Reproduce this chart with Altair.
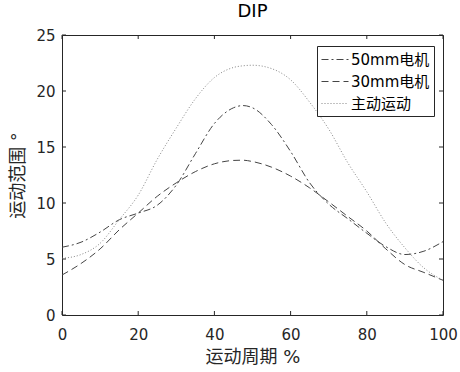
import altair as alt
import pandas as pd

x_pct = [0, 5, 10, 15, 20, 25, 30, 35, 40, 45, 47.5, 50, 55, 60, 65, 70, 75, 80, 85, 90, 95, 100]
motor50 = [6.05, 6.5, 7.4, 8.5, 9.1, 9.8, 11.6, 14.4, 17.1, 18.5, 18.7, 18.5, 17.0, 14.6, 11.8, 9.9, 8.6, 7.3, 6.1, 5.4, 5.7, 6.55]
motor30 = [3.57, 4.6, 5.9, 7.6, 9.1, 10.6, 11.8, 12.8, 13.5, 13.8, 13.82, 13.7, 13.2, 12.4, 11.35, 10.1, 8.8, 7.5, 5.9, 4.5, 3.8, 3.1]
active = [5.06, 5.4, 6.4, 8.5, 10.7, 13.9, 16.7, 19.3, 21.2, 22.1, 22.25, 22.3, 22.0, 21.0, 19.0, 16.6, 13.6, 11.0, 8.2, 6.0, 4.2, 3.1]

series_names = ["50mm电机", "30mm电机", "主动运动"]
series_colors = ["#454545", "#454545", "#858585"]
series_dash = [[7, 3, 2, 3], [7, 4], [1, 2]]

x_ticks = [0, 20, 40, 60, 80, 100]
y_ticks = [0, 5, 10, 15, 20, 25]

rows = []
for name, vals in zip(series_names, [motor50, motor30, active]):
    for xv, yv in zip(x_pct, vals):
        rows.append({"x": xv, "y": yv, "series": name})
df = pd.DataFrame(rows)

W, H = 381, 280
FONT = "DejaVu Sans, Noto Sans CJK SC"
AX = "#262626"

xscale = alt.Scale(domain=[0, 100], nice=False, zero=False)
yscale = alt.Scale(domain=[0, 25], nice=False, zero=False)

lines = alt.Chart(df).mark_line(strokeWidth=1, interpolate="monotone", clip=True).encode(
    x=alt.X("x:Q", scale=xscale,
            axis=alt.Axis(values=x_ticks, title="运动周期 %", grid=False, tickSize=0,
                          labelPadding=12, titlePadding=6, domain=False, labelFlush=False)),
    y=alt.Y("y:Q", scale=yscale,
            axis=alt.Axis(values=y_ticks, title="运动范围 °", grid=False, tickSize=0,
                          labelPadding=7, titlePadding=8, domain=False, labelFlush=False)),
    color=alt.Color("series:N", sort=series_names,
                    scale=alt.Scale(domain=series_names, range=series_colors),
                    legend=alt.Legend(title=None, orient="none", legendX=255, legendY=11,
                                      symbolType="M-1,0H2", symbolSize=324, symbolStrokeWidth=1,
                                      symbolFillColor="transparent",
                                      labelFontSize=15, labelFont=FONT, labelColor="#000000",
                                      strokeColor=AX, fillColor="white", padding=4,
                                      rowPadding=4, labelOffset=11)),
    strokeDash=alt.StrokeDash("series:N", sort=series_names,
                              scale=alt.Scale(domain=series_names, range=series_dash),
                              legend=None),
)

tx = pd.DataFrame({"t": x_ticks})
ty = pd.DataFrame({"t": y_ticks})
tick_bottom = alt.Chart(tx).mark_rule(color=AX, strokeWidth=1).encode(
    x=alt.X("t:Q", scale=xscale), y=alt.value(H), y2=alt.value(H - 4))
tick_top = alt.Chart(tx).mark_rule(color=AX, strokeWidth=1).encode(
    x=alt.X("t:Q", scale=xscale), y=alt.value(0), y2=alt.value(4))
tick_left = alt.Chart(ty).mark_rule(color=AX, strokeWidth=1).encode(
    y=alt.Y("t:Q", scale=yscale), x=alt.value(0), x2=alt.value(4))
tick_right = alt.Chart(ty).mark_rule(color=AX, strokeWidth=1).encode(
    y=alt.Y("t:Q", scale=yscale), x=alt.value(W), x2=alt.value(W - 4))

chart = alt.layer(lines, tick_bottom, tick_top, tick_left, tick_right).properties(
    width=W, height=H,
    background="white",
    title=alt.TitleParams("DIP", fontSize=18, font=FONT, fontWeight="normal", color="#000000", offset=7),
    autosize=alt.AutoSizeParams(type="none"),
    padding={"left": 62, "top": 35, "right": 17, "bottom": 57},
).configure_view(stroke=AX, strokeWidth=1).configure_axis(
    labelFont=FONT, labelFontSize=15, labelColor=AX,
    titleFont=FONT, titleFontSize=18, titleColor=AX, titleFontWeight="normal",
)

chart.save("out.html", embed_options={"renderer": "svg", "actions": False})
